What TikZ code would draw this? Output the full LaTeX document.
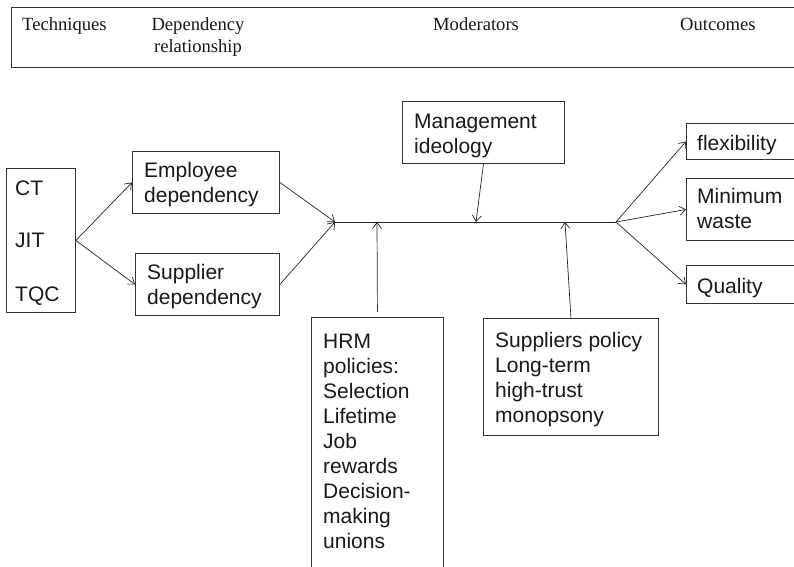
\documentclass[tikz,border=0pt]{standalone}
\usepackage{fontspec}
\setmainfont{Liberation Serif}
\newfontfamily\arialish{Liberation Sans}
\usetikzlibrary{arrows.meta}
\begin{document}
\begin{tikzpicture}[x=1pt,y=-1pt,
  boxframe/.style={draw=black!80, line width=0.9pt, inner sep=0pt, anchor=north west},
  boxtext/.style={font=\arialish\fontsize{21}{25}\selectfont, inner sep=0pt, anchor=north west, align=left, text=black!90},
  lineText/.style={font=\arialish\fontsize{21}{25}\selectfont, inner sep=0pt, anchor=base west, text=black!90},
  headtext/.style={font=\fontsize{18.6}{22}\selectfont, inner sep=0pt, text=black!90},
  link/.style={draw=black!85, line width=0.7pt, -{Straight Barb[length=6pt,width=9pt]}},
  plain/.style={draw=black!85, line width=0.8pt}]
\useasboundingbox (0,0) rectangle (794,566);
\clip (0,0) rectangle (794,566);
\fill[white] (0,0) rectangle (794,566);

% header band with column titles
\node[boxframe, minimum width=800, minimum height=60] (head) at (11,7) {};
\node[headtext, anchor=base west] (hTech) at (22,30) {Techniques};
\node[headtext, anchor=north, align=center] (hDep) at (198,14.6) {\strut Dependency\\relationship};
\node[headtext, anchor=base west] (hMod) at (433,30) {Moderators};
\node[headtext, anchor=base west] (hOut) at (680,30) {Outcomes};

% techniques
\node[boxframe, minimum width=69, minimum height=144] (tech) at (6,168) {};
\node[lineText] (tCT) at (15,195) {CT};
\node[lineText] (tJIT) at (15,247) {JIT};
\node[lineText] (tTQC) at (15,301) {TQC};

% dependency relationships
\node[boxframe, minimum width=147, minimum height=62] (emp) at (132,151) {};
\node[boxtext] (empT) at (144,159.5) {\strut Employee\\dependency};
\node[boxframe, minimum width=144, minimum height=62] (sup) at (135,253) {};
\node[boxtext] (supT) at (147,261.5) {\strut Supplier\\dependency};

% moderators
\node[boxframe, minimum width=162, minimum height=62] (mgmt) at (402,101) {};
\node[boxtext] (mgmtT) at (414,110.5) {\strut Management\\ideology};
\node[boxframe, minimum width=132, minimum height=280] (hrm) at (311,317) {};
\node[boxtext] (hrmT) at (323,330.5) {\strut HRM\\policies:\\Selection\\Lifetime\\Job\\rewards\\Decision-\\making\\unions};
\node[boxframe, minimum width=175, minimum height=117] (spol) at (483,318) {};
\node[boxtext] (spolT) at (495,329.5) {\strut Suppliers policy\\Long-term\\high-trust\\monopsony};

% outcomes
\node[boxframe, minimum width=140, minimum height=36] (flex) at (686,123) {};
\node[lineText] (flexT) at (697,150) {flexibility};
\node[boxframe, minimum width=140, minimum height=62] (mw) at (686,178) {};
\node[boxtext] (mwT) at (697,185.5) {\strut Minimum\\waste};
\node[boxframe, minimum width=140, minimum height=38] (qual) at (686,265) {};
\node[lineText] (qualT) at (697,293) {Quality};

% junction points on the central line
\coordinate (join) at (335,222);
\coordinate (split) at (616,222);
\coordinate (mgmtIn) at (476,222);
\coordinate (hrmIn) at (377,222);
\coordinate (spolIn) at (565,222);

% connectors
\draw[link] (tech.east) -- (emp.west);
\draw[link] (tech.east) -- (sup.west);
\draw[link] (emp.east) -- (join);
\draw[link] (sup.east) -- (join);
\draw[plain] (join) -- (split);
\draw[link] (mgmt.south) -- (mgmtIn);
\draw[link, shorten <=5pt] (hrm.north) -- (hrmIn);
\draw[link] (spol.north) -- (spolIn);
\draw[link] (split) -- (flex.west);
\draw[link] (split) -- (mw.west);
\draw[link] (split) -- (qual.west);
\end{tikzpicture}
\end{document}
